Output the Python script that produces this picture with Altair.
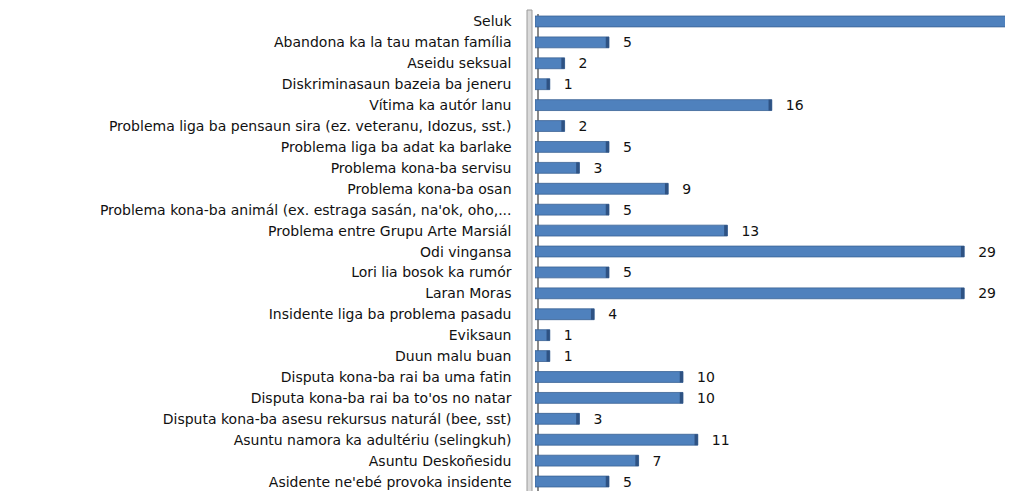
import altair as alt
import pandas as pd

categories = [
    "Seluk",
    "Abandona ka la tau matan família",
    "Aseidu seksual",
    "Diskriminasaun bazeia ba jeneru",
    "Vítima ka autór lanu",
    "Problema liga ba pensaun sira (ez. veteranu, Idozus, sst.)",
    "Problema liga ba adat ka barlake",
    "Problema kona-ba servisu",
    "Problema kona-ba osan",
    "Problema kona-ba animál (ex. estraga sasán, na'ok, oho,...",
    "Problema entre Grupu Arte Marsiál",
    "Odi vingansa",
    "Lori lia bosok ka rumór",
    "Laran Moras",
    "Insidente liga ba problema pasadu",
    "Eviksaun",
    "Duun malu buan",
    "Disputa kona-ba rai ba uma fatin",
    "Disputa kona-ba rai ba to'os no natar",
    "Disputa kona-ba asesu rekursus naturál (bee, sst)",
    "Asuntu namora ka adultériu (selingkuh)",
    "Asuntu Deskoñesidu",
    "Asidente ne'ebé provoka insidente",
]
values = [40, 5, 2, 1, 16, 2, 5, 3, 9, 5, 13, 29, 5, 29, 4, 1, 1, 10, 10, 3, 11, 7, 5]

df = pd.DataFrame({"cat": categories, "val": values})
one = pd.DataFrame({"k": [0]})

W = 470
H = 480
XMAX = W / 14.8
xscale = alt.Scale(domain=[0, XMAX], nice=False, zero=True)
yscale = alt.Scale(domain=categories, range=[0, 481], paddingInner=0.48, paddingOuter=0.24)

wall = alt.Chart(one).mark_rect(fill="#DADADA", stroke="#9A9A9A", strokeWidth=1).encode(
    x=alt.value(-8), x2=alt.value(-3), y=alt.value(-1), y2=alt.value(520)
)
backline = alt.Chart(one).mark_rule(color="#8A8A8A", strokeWidth=2).encode(
    x=alt.value(3), y=alt.value(3), y2=alt.value(520)
)

bars = alt.Chart(df).mark_bar(
    color="#4F81BD", stroke="#3A6294", strokeWidth=0.8, clip=True
).encode(
    x=alt.X("val:Q", scale=xscale, axis=None),
    y=alt.Y(
        "cat:N",
        scale=yscale,
        sort=categories,
        axis=alt.Axis(
            title=None,
            domain=False,
            ticks=False,
            grid=False,
            labelPadding=24,
            labelFont="DejaVu Sans",
            labelFontSize=14,
            labelColor="#111111",
            labelLimit=600,
            labelOffset=1,
        ),
    ),
)

endcap = alt.Chart(df).transform_calculate(
    x0="datum.val - 0.22"
).mark_bar(color="#2E5283", clip=True).encode(
    x=alt.X("x0:Q", scale=xscale),
    x2="val:Q",
    y=alt.Y("cat:N", scale=yscale, sort=categories),
)

labels = alt.Chart(df).transform_filter(
    f"datum.val <= {XMAX}"
).mark_text(
    align="left", baseline="middle", dx=14, dy=1,
    font="DejaVu Sans", fontSize=14, color="#111111", clip=True
).encode(
    x=alt.X("val:Q", scale=xscale),
    y=alt.Y("cat:N", scale=yscale, sort=categories),
    text="val:Q",
)

chart = alt.layer(wall, backline, bars, endcap, labels).properties(
    width=W,
    height=H,
    autosize=alt.AutoSizeParams(type="none"),
    padding={"left": 527, "top": 3, "right": 0, "bottom": 0},
    background="white",
).configure_view(stroke=None)

chart.save("out.html", embed_options={"renderer": "svg", "actions": False})
